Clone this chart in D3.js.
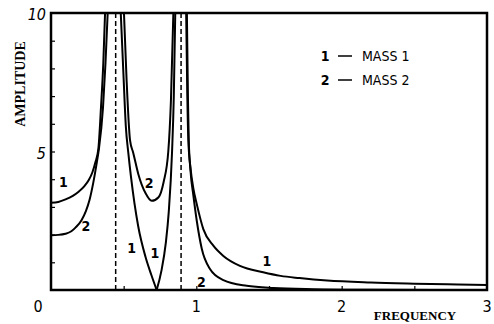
<!DOCTYPE html>
<html>
<head>
<meta charset="utf-8">
<script src="https://cdn.jsdelivr.net/npm/d3@7/dist/d3.min.js"></script>
<style>
  html, body { margin: 0; padding: 0; background: #fff; }
  svg { display: block; }
</style>
</head>
<body>
<div id="chart"></div>
<script>
// Resonance frequencies (dashed lines)
const resonances = [0.445, 0.895];

// Mass 1 amplitude, one array per branch
const mass1Low = [[0, 3.15], [0.05, 3.18], [0.1, 3.27], [0.15, 3.4], [0.19, 3.55], [0.23, 3.75], [0.26, 3.97],
  [0.285, 4.25], [0.305, 4.6], [0.326, 5.1], [0.344, 6.6], [0.36, 8.2], [0.372, 10]];
const mass1MidDown = [[0.48, 10], [0.5, 7.6], [0.515, 5.9], [0.532, 4.95], [0.55, 4.1], [0.6, 2.3],
  [0.65, 1.2], [0.69, 0.55], [0.727, 0]];
const mass1MidUp = [[0.727, 0], [0.76, 0.7], [0.79, 1.7], [0.81, 2.8], [0.833, 5.0], [0.845, 7.0], [0.855, 10]];
const mass1High = [[0.93, 10], [0.938, 7], [0.945, 5.4], [0.96, 4.4], [0.98, 3.65], [1.003, 3.1], [1.048, 2.2],
  [1.117, 1.6], [1.186, 1.23], [1.3, 0.87], [1.46, 0.64], [1.58, 0.51], [1.71, 0.43], [1.9, 0.34],
  [2.2, 0.27], [2.5, 0.23], [2.8, 0.2], [3, 0.18]];

// Mass 2 amplitude
const mass2Low = [[0, 1.98], [0.05, 1.99], [0.1, 2.03], [0.14, 2.12], [0.17, 2.26], [0.21, 2.52], [0.24, 2.85],
  [0.265, 3.25], [0.29, 3.85], [0.315, 4.6], [0.33, 5.1], [0.358, 6.6], [0.375, 8.2], [0.39, 10]];
const mass2Mid = [[0.502, 10], [0.52, 7.6], [0.544, 5.4], [0.566, 4.95], [0.6, 4.2], [0.65, 3.5], [0.693, 3.22],
  [0.74, 3.35], [0.775, 3.9], [0.807, 5.0], [0.825, 6.8], [0.842, 10]];
const mass2High = [[0.935, 10], [0.942, 7], [0.948, 5.4], [0.96, 4.3], [0.98, 3.4], [1.003, 2.5], [1.037, 1.5],
  [1.094, 0.76], [1.186, 0.36], [1.347, 0.15], [1.53, 0.07], [1.8, 0.03], [2.2, 0.01], [3, 0]];

// Tick labels
const xLabels = [0, 1, 2, 3];
const yLabels = [5, 10];

// Curve labels: [freq, amplitude, text]
const curveLabels = [[0.085, 3.9, '1'], [0.24, 2.3, '2'], [0.555, 1.5, '1'], [0.715, 1.35, '1'],
  [0.675, 3.85, '2'], [1.485, 1.05, '1'], [1.035, 0.3, '2']];

// Legend rows
const legendRows = ['1', '2'];
const legendNames = ['MASS 1', 'MASS 2'];

const width = 494;
const height = 324;
const margin = {top: 13, right: 7, bottom: 34, left: 51};

const x = d3.scaleLinear().domain([0, 3]).range([margin.left, width - margin.right]);
const y = d3.scaleLinear().domain([0, 10]).range([height - margin.bottom, margin.top]);

const svg = d3.select('#chart')
    .append('svg')
    .attr('width', width)
    .attr('height', height);

svg.append('defs')
    .append('clipPath')
    .attr('id', 'plot')
    .append('rect')
    .attr('x', x(0))
    .attr('y', y(10))
    .attr('width', x(3) - x(0))
    .attr('height', y(0) - y(10));

// Inward ticks
svg.append('g')
    .attr('transform', `translate(0, ${y(0)})`)
    .call(d3.axisBottom(x).tickValues(d3.range(0.5, 3, 0.5)).tickSize(-4).tickFormat(''))
    .call(g => g.select('.domain').remove())
    .selectAll('line').attr('stroke', '#000').attr('stroke-width', 1.2);

svg.append('g')
    .attr('transform', `translate(${x(0)}, 0)`)
    .call(d3.axisLeft(y).tickValues(d3.range(1, 10)).tickSize(-4).tickFormat(''))
    .call(g => g.select('.domain').remove())
    .selectAll('line').attr('stroke', '#000').attr('stroke-width', 1.2);

// Dashed resonance lines
svg.selectAll('.res')
    .data(resonances)
    .join('line')
    .attr('class', 'res')
    .attr('x1', d => x(d))
    .attr('x2', d => x(d))
    .attr('y1', y(10))
    .attr('y2', y(0))
    .attr('stroke', '#000')
    .attr('stroke-width', 1.5)
    .attr('stroke-dasharray', '5,3');

// Response curves
const line = d3.line()
    .x(d => x(d[0]))
    .y(d => y(d[1]))
    .curve(d3.curveMonotoneX);

const branches = [mass1Low, mass1MidDown, mass1MidUp, mass1High, mass2Low, mass2Mid, mass2High];

svg.append('g')
    .attr('clip-path', 'url(#plot)')
    .selectAll('path')
    .data(branches)
    .join('path')
    .attr('d', line)
    .attr('fill', 'none')
    .attr('stroke', '#000')
    .attr('stroke-width', 2);

// Frame
svg.append('rect')
    .attr('x', x(0))
    .attr('y', y(10))
    .attr('width', x(3) - x(0))
    .attr('height', y(0) - y(10))
    .attr('fill', 'none')
    .attr('stroke', '#000')
    .attr('stroke-width', 2.5);

const sans = '"DejaVu Sans Condensed", "DejaVu Sans", sans-serif';
const serif = '"Liberation Serif", "DejaVu Serif", serif';

// Tick labels
svg.selectAll('.xl')
    .data(xLabels)
    .join('text')
    .attr('class', 'xl')
    .attr('x', d => d === 0 ? x(0) - 13 : x(d))
    .attr('y', y(0) + 22)
    .attr('text-anchor', 'middle')
    .style('font-family', sans)
    .style('font-size', '16px')
    .text(d => d);

svg.selectAll('.yl')
    .data(yLabels)
    .join('text')
    .attr('class', 'yl')
    .attr('x', x(0) - 5)
    .attr('y', d => y(d) + 7)
    .attr('text-anchor', 'end')
    .style('font-family', sans)
    .style('font-size', '16px')
    .style('font-style', 'italic')
    .text(d => d);

// Axis titles
svg.append('text')
    .attr('transform', `translate(25, 84) rotate(-90)`)
    .attr('text-anchor', 'middle')
    .style('font-family', serif)
    .style('font-weight', 'bold')
    .style('font-size', '14px')
    .text('AMPLITUDE');

svg.append('text')
    .attr('x', 415)
    .attr('y', 320)
    .attr('text-anchor', 'middle')
    .style('font-family', serif)
    .style('font-weight', 'bold')
    .style('font-size', '13px')
    .text('FREQUENCY');

// Curve labels
svg.selectAll('.cl')
    .data(curveLabels)
    .join('text')
    .attr('class', 'cl')
    .attr('x', d => x(d[0]))
    .attr('y', d => y(d[1]))
    .attr('text-anchor', 'middle')
    .attr('dy', '0.35em')
    .style('font-family', sans)
    .style('font-weight', 'bold')
    .style('font-size', '14px')
    .text(d => d[2]);

// Legend
const legend = svg.append('g')
    .selectAll('g')
    .data(legendRows)
    .join('g')
    .attr('transform', (d, i) => `translate(325, ${56 + i * 24})`);

legend.append('text')
    .attr('text-anchor', 'middle')
    .attr('dy', '0.35em')
    .style('font-family', sans)
    .style('font-weight', 'bold')
    .style('font-size', '14px')
    .text(d => d);

legend.append('line')
    .attr('x1', 13)
    .attr('x2', 27)
    .attr('stroke', '#000')
    .attr('stroke-width', 1.5);

legend.append('text')
    .attr('x', 37)
    .attr('dy', '0.35em')
    .style('font-family', sans)
    .style('font-size', '14px')
    .text((d, i) => legendNames[i]);
</script>
</body>
</html>
